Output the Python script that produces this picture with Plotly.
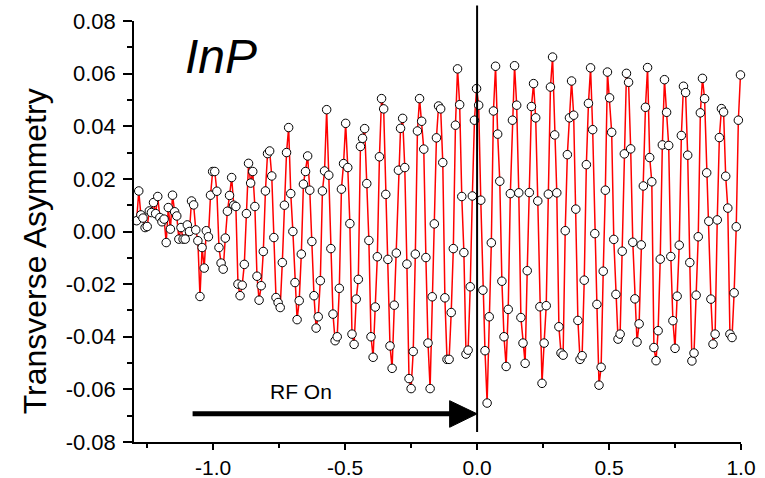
import numpy as np
import plotly.graph_objects as go

# Time axis: uniform bins (microseconds)
T_START = -1.290
T_STEP = 0.008

# Transverse asymmetry per time bin
asym_before = [
    0.0041, 0.0154, 0.0063, 0.0051, 0.0015, 0.0019, 0.0078, 0.0072, 0.0110, 0.0068,
    0.0133, 0.0053, 0.0037, 0.0047, -0.0042, 0.0091, 0.0009, 0.0138, 0.0075, 0.0059,
    -0.0029, 0.0015, -0.0029, -0.0029, 0.0025, 0.0000, 0.0116, 0.0101, 0.0006, -0.0035,
    -0.0247, -0.0061, -0.0139, 0.0003, -0.0020, 0.0138, 0.0228, 0.0228, 0.0153, -0.0061,
    -0.0120, -0.0143, -0.0025, 0.0077, 0.0137, 0.0205, 0.0100, 0.0095, -0.0200, -0.0244,
    -0.0204, -0.0125, 0.0068, 0.0259, 0.0184, 0.0228, 0.0095, -0.0170, -0.0261, -0.0206,
    -0.0076, 0.0154, 0.0296, 0.0306, 0.0211, -0.0023, -0.0251, -0.0270, -0.0289, -0.0118,
    0.0100, 0.0300, 0.0395, 0.0144, 0.0000, -0.0194, -0.0335, -0.0263, -0.0086, 0.0180,
    0.0228, 0.0287, 0.0157, -0.0038, -0.0244, -0.0367, -0.0324, -0.0187, 0.0154, 0.0230,
    0.0463, 0.0214, -0.0065, -0.0314, -0.0415,
]
asym_middle = [
    -0.0400, -0.0216, 0.0161, 0.0258, 0.0411, 0.0243, 0.0030, -0.0390, -0.0429, -0.0257,
    -0.0182, 0.0323, 0.0354, 0.0391, 0.0182, -0.0034, -0.0400, -0.0478, -0.0287, -0.0096,
    0.0284, 0.0505, 0.0466, 0.0141, -0.0106, -0.0435, -0.0520, -0.0280, -0.0082, 0.0233,
    0.0392, 0.0430, 0.0243, -0.0124, -0.0559, -0.0597, -0.0456, -0.0086, 0.0382, 0.0505,
    0.0419, 0.0313, -0.0099, -0.0424, -0.0597, -0.0248, 0.0029, 0.0356, 0.0477, 0.0466,
    0.0262, -0.0252, -0.0486, -0.0486, -0.0308, -0.0065, 0.0404, 0.0618, 0.0482, 0.0133,
    -0.0080, -0.0466, -0.0451, -0.0210, 0.0135, 0.0423, 0.0543, 0.0480, 0.0119, -0.0223,
    -0.0453, -0.0652, -0.0324, -0.0043, 0.0458, 0.0628, 0.0370, 0.0191, -0.0189, -0.0400,
    -0.0513, -0.0296, 0.0144, 0.0423, 0.0630, 0.0480, 0.0147, -0.0327, -0.0424, -0.0501,
    -0.0149, 0.0148, 0.0475, 0.0562, 0.0432, 0.0116, -0.0286, -0.0577,
]
asym_after = [
    -0.0424, -0.0282, 0.0142, 0.0549, 0.0663, 0.0367, 0.0147, -0.0362, -0.0462, -0.0470,
    0.0003, 0.0292, 0.0432, 0.0572, 0.0442, 0.0085, -0.0338, -0.0486, -0.0472, -0.0185,
    0.0254, 0.0487, 0.0622, 0.0387, -0.0008, -0.0277, -0.0584, -0.0516, -0.0151, 0.0157,
    0.0606, 0.0508, 0.0377, -0.0030, -0.0239, -0.0409, -0.0390, -0.0075, 0.0295, 0.0601,
    0.0567, 0.0314, -0.0041, -0.0256, -0.0420, -0.0351, -0.0051, 0.0173, 0.0472, 0.0623,
    0.0281, 0.0189, -0.0441, -0.0491, -0.0377, -0.0105, 0.0329, 0.0577, 0.0453, 0.0327,
    -0.0095, -0.0339, -0.0444, -0.0246, -0.0052, 0.0365, 0.0552, 0.0528, 0.0290, -0.0118,
    -0.0492, -0.0462, -0.0242, -0.0020, 0.0451, 0.0582, 0.0505, 0.0223, 0.0039, -0.0257,
    -0.0428, -0.0390, 0.0044, 0.0357, 0.0467, 0.0454, 0.0210, 0.0089, -0.0390, -0.0403,
    -0.0233, 0.0018, 0.0423, 0.0595,
]

x_tickvals = [-1.0, -0.5, 0.0, 0.5, 1.0]
x_ticktext = ["-1.0", "-0.5", "0.0", "0.5", "1.0"]
x_minor = [-1.25, -0.75, -0.25, 0.25, 0.75]
y_tickvals = [-0.08, -0.06, -0.04, -0.02, 0.0, 0.02, 0.04, 0.06, 0.08]
y_ticktext = ["-0.08", "-0.06", "-0.04", "-0.02", "0.00", "0.02", "0.04", "0.06", "0.08"]
y_minor = [-0.07, -0.05, -0.03, -0.01, 0.01, 0.03, 0.05, 0.07]

asym = np.array(asym_before + asym_middle + asym_after)
t = T_START + T_STEP * np.arange(len(asym))

FONT = "Liberation Sans, Arial, sans-serif"

fig = go.Figure()
fig.add_trace(go.Scatter(
    x=t, y=asym, mode="lines+markers",
    line=dict(color="#ff0000", width=1.5),
    marker=dict(size=8.5, color="white", line=dict(color="black", width=1)),
    showlegend=False, cliponaxis=False,
))

axis_common = dict(
    showline=True, linecolor="black", linewidth=1.5,
    ticks="outside", tickwidth=1.5, tickcolor="black",
    showgrid=False, zeroline=False, mirror=False, automargin=False,
)

fig.update_layout(
    width=765, height=478,
    margin=dict(l=134, r=24, t=21, b=36),
    paper_bgcolor="white", plot_bgcolor="white",
    font=dict(family=FONT, size=22, color="black"),
    xaxis=dict(range=[-1.3, 1.0], tickmode="array", tickvals=x_tickvals, ticktext=x_ticktext,
               ticklen=6, tickfont=dict(family=FONT, size=21, color="black"),
               minor=dict(tickmode="array", tickvals=x_minor, ticks="outside", ticklen=4,
                          tickwidth=1.5, tickcolor="black"),
               **axis_common),
    yaxis=dict(range=[-0.08, 0.08], tickmode="array", tickvals=y_tickvals, ticktext=y_ticktext,
               ticklen=9, ticklabelstandoff=3, tickfont=dict(family=FONT, size=22, color="black"),
               minor=dict(tickmode="array", tickvals=y_minor, ticks="outside", ticklen=5,
                          tickwidth=1.5, tickcolor="black"),
               **axis_common),
)

# RF switch-on marker at t = 0
fig.add_shape(type="line", xref="x", yref="paper", x0=0, x1=0, y0=0.024, y1=1.037,
              line=dict(color="black", width=2), layer="above")

# "RF On" arrow
fig.add_shape(type="line", xref="x", yref="y", x0=-1.078, x1=-0.09, y0=-0.0693, y1=-0.0693,
              line=dict(color="black", width=5), layer="above")
fig.add_shape(type="path", xref="x", yref="y",
              path="M -0.104,-0.0643 L 0,-0.0693 L -0.104,-0.0744 Z",
              fillcolor="black", line=dict(color="black", width=1), layer="above")

fig.add_annotation(x=-0.667, y=-0.0609, xref="x", yref="y", text="RF On", showarrow=False,
                   font=dict(family=FONT, size=21, color="black"), xanchor="center", yanchor="middle")
fig.add_annotation(x=-1.114, y=0.0667, xref="x", yref="y", text="<i>InP</i>", showarrow=False,
                   font=dict(family=FONT, size=48, color="black"), xanchor="left", yanchor="middle")
fig.add_annotation(x=-0.163, y=0.453, xref="paper", yref="paper", text="Transverse Asymmetry",
                   textangle=-90, showarrow=False,
                   font=dict(family=FONT, size=32, color="black"), xanchor="center", yanchor="middle")

fig.write_html("out.html")
